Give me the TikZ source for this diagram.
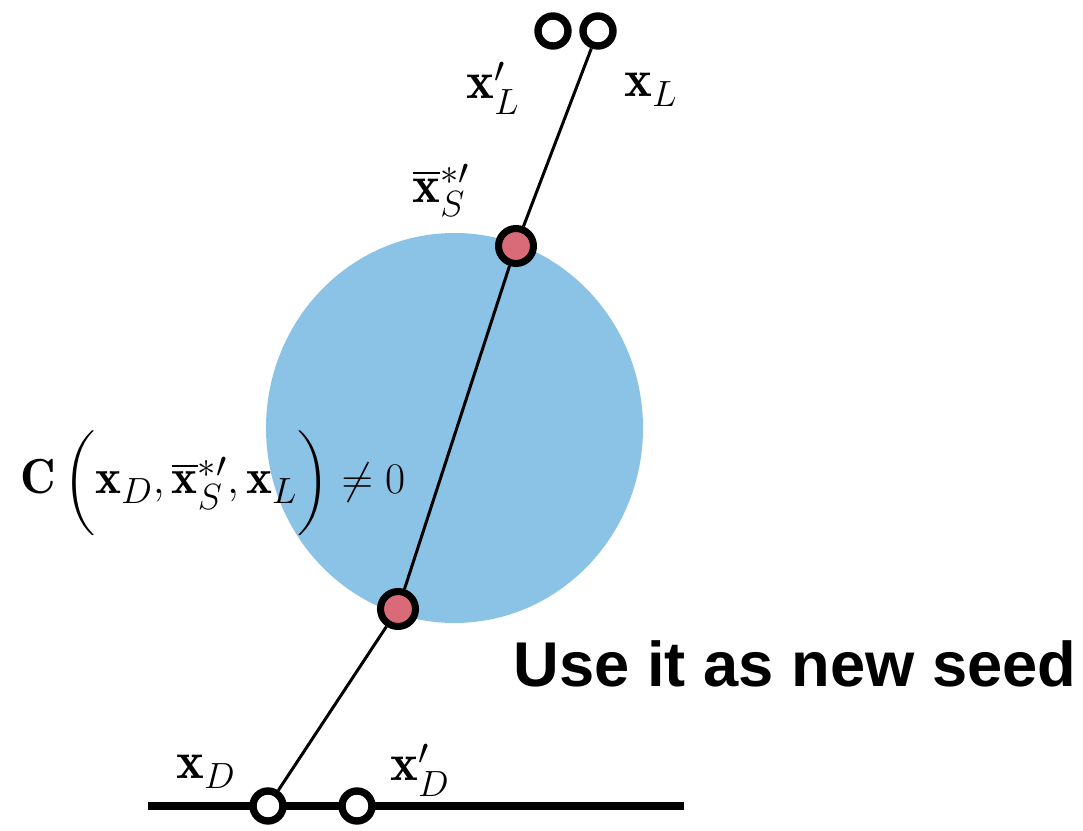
\documentclass[tikz,border=0pt]{standalone}
\usepackage{amsmath}
\usepackage{fontspec}
\newfontfamily\arialgras[BoldFont={Liberation Sans Bold}]{Liberation Sans}

\definecolor{bleuzone}{RGB}{139,195,230}
\definecolor{rosegraine}{RGB}{217,107,120}

\tikzset{
    ouvert/.style={circle, draw=black, line width=4.2pt, fill=white, inner sep=0pt, minimum size=0.6cm},
    graine/.style={circle, draw=black, line width=4pt, fill=rosegraine, inner sep=0pt, minimum size=0.7cm},
    etiquette/.style={font=\fontsize{30}{34}\selectfont},
}

\begin{document}
\begin{tikzpicture}[x=0.02cm, y=-0.02cm]

    % Cadre fixe de l'image (en pixels)
    \useasboundingbox (0,0) rectangle (1083,831);

    % Zone bleue autour de la solution
    \fill[bleuzone] (454.5,428) ellipse [x radius=188.5, y radius=195];

    % Droite du bas (ensemble des points D)
    \coordinate (solG) at (148,806);
    \coordinate (solD) at (684,806);
    \draw[line width=5.1pt] (solG) -- (solD);

    % Cercles ouverts : points extremes
    \foreach \nom/\x/\y in {xD/268/806, xDp/357/806, xLp/553/31, xL/598/31} {
        \node[ouvert] (\nom) at (\x,\y) {};
    }

    % Graines (points rouges) sur le segment
    \node[graine] (sH) at (516,246) {};
    \node[graine] (sB) at (398,609) {};

    % Segment reliant x_L a x_D en passant par les graines
    \draw[line width=1.7pt] (xL) -- (sH);
    \draw[line width=1.7pt] (sH) -- (sB);
    \draw[line width=1.7pt] (sB) -- (xD);

    % Etiquettes
    \node[etiquette] (lxLp) at (493,88) {$\mathbf{x}_L'$};
    \node[etiquette] (lxL) at (651,90) {$\mathbf{x}_L$};
    \node[etiquette] (lxS) at (441,190) {$\overline{\mathbf{x}}_S^{*\prime}$};
    \node[etiquette, font=\fontsize{28}{32}\selectfont, anchor=west, inner sep=0pt] (lC) at (20,483)
        {$\mathbf{C}\,\biggl(\mathbf{x}_D,\overline{\mathbf{x}}_S^{*\prime},\mathbf{x}_L\biggr)\neq 0$};
    \node[etiquette] (lxD) at (206,772) {$\mathbf{x}_D$};
    \node[etiquette] (lxDp) at (420,770) {$\mathbf{x}_D'$};

    % Texte en gras
    \node[font=\arialgras\bfseries\fontsize{36}{40}\selectfont] (seed) at (795,664) {Use it as new seed};

\end{tikzpicture}
\end{document}
